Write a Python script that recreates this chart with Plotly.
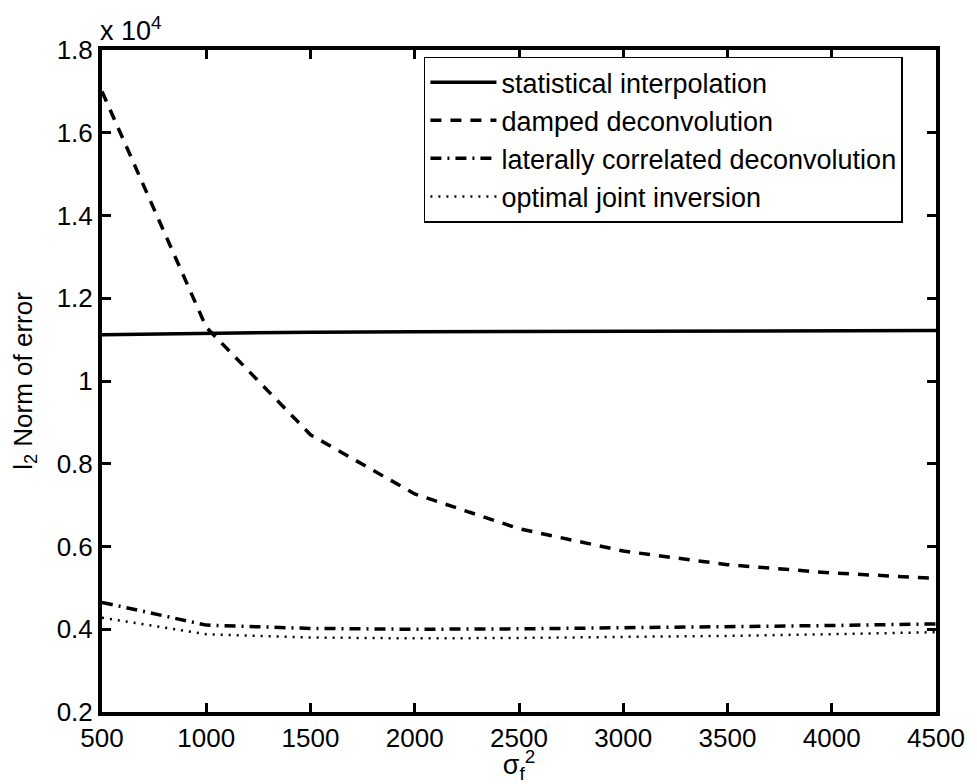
import plotly.graph_objects as go

sigma_f2 = [500, 1000, 1500, 2000, 2500, 3000, 3500, 4000, 4500]
statistical_interpolation = [1.112, 1.116, 1.118, 1.119, 1.120, 1.121, 1.121, 1.122, 1.122]
damped_deconvolution = [1.70, 1.13, 0.87, 0.727, 0.643, 0.589, 0.556, 0.536, 0.523]
lateral_deconvolution = [0.465, 0.410, 0.402, 0.400, 0.401, 0.403, 0.406, 0.409, 0.413]
optimal_joint_inversion = [0.428, 0.388, 0.380, 0.378, 0.379, 0.381, 0.384, 0.388, 0.393]

x_ticks = [500, 1000, 1500, 2000, 2500, 3000, 3500, 4000, 4500]
y_ticks = [0.2, 0.4, 0.6, 0.8, 1.0, 1.2, 1.4, 1.6, 1.8]
y_tick_text = ["0.2", "0.4", "0.6", "0.8", "1", "1.2", "1.4", "1.6", "1.8"]

FONT = "Liberation Sans, Arial, Helvetica, sans-serif"

fig = go.Figure()
fig.add_trace(go.Scatter(x=sigma_f2, y=statistical_interpolation, mode="lines",
                         name="statistical interpolation",
                         line=dict(color="black", width=3.5, dash="solid")))
fig.add_trace(go.Scatter(x=sigma_f2, y=damped_deconvolution, mode="lines",
                         name="damped deconvolution",
                         line=dict(color="black", width=3.5, dash="11px,9px")))
fig.add_trace(go.Scatter(x=sigma_f2, y=lateral_deconvolution, mode="lines",
                         name="laterally correlated deconvolution",
                         line=dict(color="black", width=3.5, dash="11px,6px,2px,6px")))
fig.add_trace(go.Scatter(x=sigma_f2, y=optimal_joint_inversion, mode="lines",
                         name="optimal joint inversion",
                         line=dict(color="black", width=2.5, dash="2px,6px")))

axis_common = dict(
    showline=True, linecolor="black", linewidth=4, mirror="ticks",
    ticks="inside", ticklen=9, tickwidth=3, tickcolor="black",
    showgrid=False, zeroline=False,
    tickfont=dict(family=FONT, size=26, color="black"),
)

fig.update_xaxes(range=[500, 4500], tickvals=x_ticks, ticktext=[str(v) for v in x_ticks],
                 title=dict(text="σ<sub>f</sub><sup>2</sup>", standoff=0,
                            font=dict(family=FONT, size=27, color="black")),
                 **axis_common)
fig.update_yaxes(range=[0.2, 1.8], tickvals=y_ticks, ticktext=y_tick_text,
                 title=dict(text="l<sub>2</sub> Norm of error", standoff=18,
                            font=dict(family=FONT, size=26, color="black")),
                 **axis_common)

fig.add_annotation(x=0, y=1, xref="paper", yref="paper", xanchor="left", yanchor="bottom",
                   text="x 10<sup>4</sup>", showarrow=False, xshift=-4, yshift=2,
                   font=dict(family=FONT, size=27, color="black"))

fig.update_layout(
    width=977, height=784,
    margin=dict(l=102, r=38, t=50, b=71),
    paper_bgcolor="white", plot_bgcolor="white",
    font=dict(family=FONT, size=26, color="black"),
    showlegend=True,
    legend=dict(x=0.386, y=0.99, xanchor="left", yanchor="top",
                bgcolor="white", bordercolor="black", borderwidth=1.5,
                font=dict(family=FONT, size=27, color="black"),
                itemwidth=66, tracegroupgap=0),
)

fig.write_html("out.html")
